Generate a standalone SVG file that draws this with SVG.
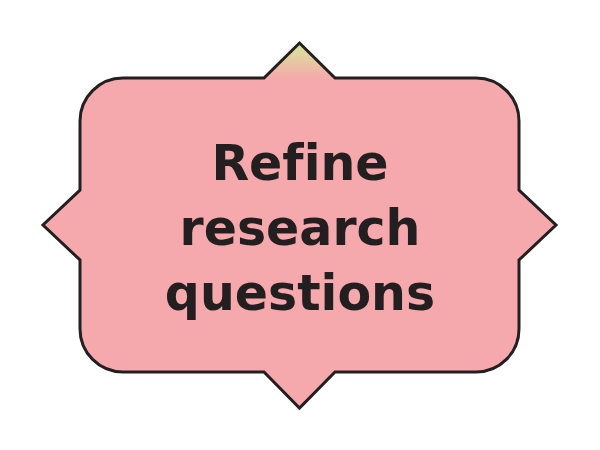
<svg xmlns="http://www.w3.org/2000/svg" width="600" height="450" viewBox="0 0 600 450">
<defs>
<linearGradient id="g" x1="0" y1="43" x2="0" y2="408" gradientUnits="userSpaceOnUse">
<stop offset="0" stop-color="#d6e79a"/>
<stop offset="0.1" stop-color="#f6a9ac"/>
<stop offset="1" stop-color="#f6a9ac"/>
</linearGradient>
<style>
.shape{fill:url(#g);stroke:#231f20;stroke-width:3;stroke-linejoin:miter}
.label{font-family:"DejaVu Sans",sans-serif;font-weight:bold;font-size:49px;fill:#231f20;text-anchor:middle;font-variant-ligatures:none}
</style>
</defs>
<rect width="600" height="450" fill="#ffffff"/>
<g id="node1">
<path class="shape" d="M123,78 L264,78 L299.5,43 L335,78 L476,78 A43,43 0 0 1 519,121 L519,190 L556,225 L519,260 L519,329 A43,43 0 0 1 476,372 L335,372 L299.5,408 L264,372 L123,372 A43,43 0 0 1 80,329 L80,260 L43,225 L80,190 L80,121 A43,43 0 0 1 123,78 Z"/>
<text class="label" x="300" y="180">Refine</text>
<text class="label" x="300" y="245">research</text>
<text class="label" x="300" y="310">questions</text>
</g>
<g id="connectors"/>
</svg>
